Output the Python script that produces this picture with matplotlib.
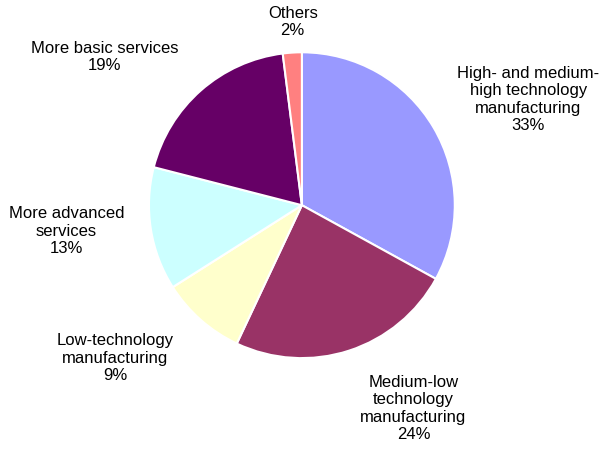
import numpy as np
import matplotlib.pyplot as plt

plt.rcParams['font.family'] = ['Liberation Sans', 'DejaVu Sans']

# Shares by sector, clockwise from the top
sectors = ['High- and medium-\nhigh technology\nmanufacturing',
           'Medium-low\ntechnology\nmanufacturing',
           'Low-technology\nmanufacturing',
           'More advanced\nservices',
           'More basic services',
           'Others']
shares = [33, 24, 9, 13, 19, 2]
colors = ['#9999FF', '#993366', '#FFFFCC', '#CCFFFF', '#660066', '#FF8080']

# Label centres (pie radius = 1)
label_xy = [(1.48, 0.69), (0.73, -1.33), (-1.22, -1.00),
            (-1.54, -0.17), (-1.29, 0.97), (-0.06, 1.20)]

fig = plt.figure(figsize=(6.08, 4.5), dpi=100)
ax = fig.add_axes([0.245, 0.204, 0.503, 0.68])
ax.pie(shares, colors=colors, startangle=90, counterclock=False,
       wedgeprops=dict(edgecolor='white', linewidth=1.5))
ax.set_xlim(-1, 1)
ax.set_ylim(-1, 1)
ax.set_aspect('equal')
ax.axis('off')

for name, val, (x, y) in zip(sectors, shares, label_xy):
    ax.text(x, y, f'{name}\n{val}%', ha='center', va='center',
            fontsize=12, linespacing=1.2, color='#000000', clip_on=False)

plt.savefig('out.png', dpi=100)
